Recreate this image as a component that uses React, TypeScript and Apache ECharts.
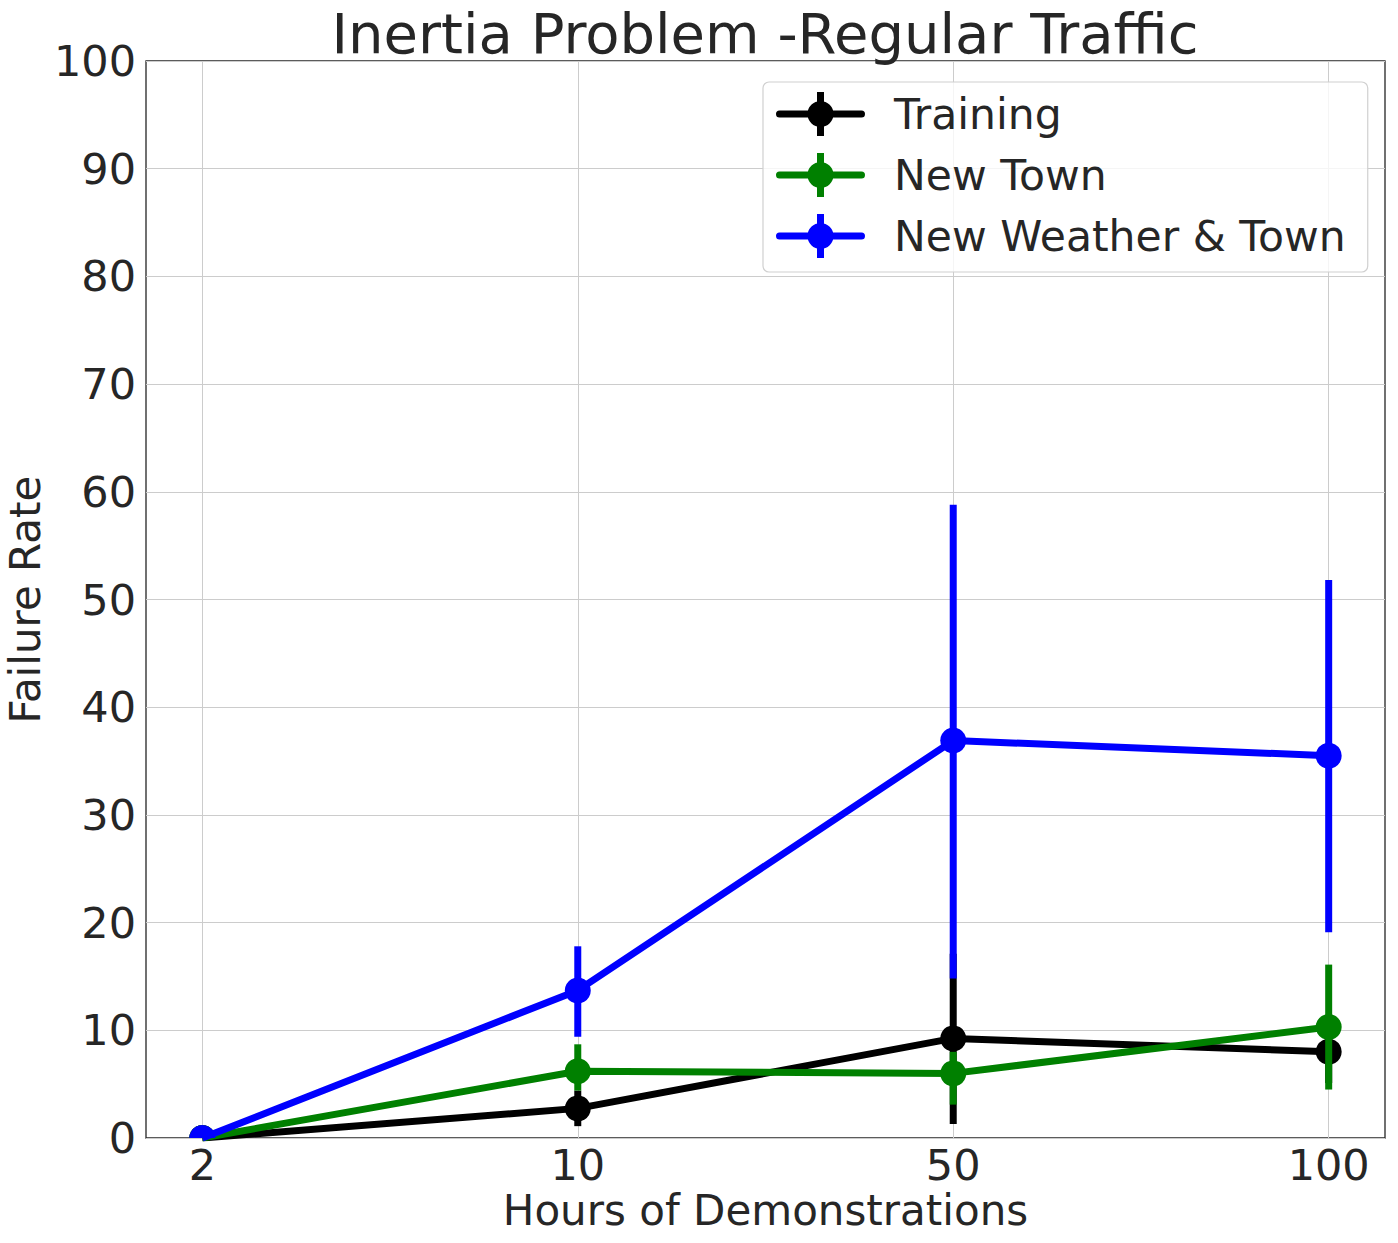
import React, { useEffect, useRef } from "react";
import * as echarts from "echarts";

const xLabels = ["2", "10", "50", "100"];
const xPositions = [0, 1, 2, 3];
const seriesNames = ["Training", "New Town", "New Weather & Town"];
const seriesColors = ["#000000", "#008000", "#0000ff"];

const trainingMean = [0, 2.75, 9.25, 8.0];
const trainingLow = [0, 1.1, 1.3, 5.1];
const trainingHigh = [0, 4.4, 17.1, 10.9];

const newTownMean = [0, 6.2, 6.0, 10.3];
const newTownLow = [0, 4.4, 3.1, 4.5];
const newTownHigh = [0, 8.7, 8.0, 16.1];

const weatherMean = [0, 13.7, 36.9, 35.5];
const weatherLow = [0, 9.4, 14.8, 19.1];
const weatherHigh = [0, 17.8, 58.8, 51.8];

const yTicks = [0, 10, 20, 30, 40, 50, 60, 70, 80, 90, 100];

const FONT = "DejaVu Sans";
const TEXT = "#262626";

const legendIcon =
  "path://M3.5,18.5 L85.5,18.5 A3.5,3.5 0 0 1 85.5,25.5 L3.5,25.5 A3.5,3.5 0 0 1 3.5,18.5 Z " +
  "M41,0 L48,0 L48,44 L41,44 Z " +
  "M31.5,22 A13,13 0 1 1 57.5,22 A13,13 0 1 1 31.5,22 Z";

export default function App() {
  const ref = useRef<HTMLDivElement>(null);

  useEffect(() => {
    document.body.style.margin = "0";
    if (!ref.current) return;
    const chart = echarts.init(ref.current, undefined, { renderer: "svg" });

    const groups = [
      { mean: trainingMean, low: trainingLow, high: trainingHigh },
      { mean: newTownMean, low: newTownLow, high: newTownHigh },
      { mean: weatherMean, low: weatherLow, high: weatherHigh },
    ];

    const series: any[] = [];
    groups.forEach((g, i) => {
      const color = seriesColors[i];
      series.push({
        name: seriesNames[i],
        type: "line",
        data: xPositions.map((x, k) => [x, g.mean[k]]),
        symbol: "none",
        showSymbol: false,
        lineStyle: { color, width: 7 },
        itemStyle: { color },
        z: 2 + i * 2,
        clip: true,
      });
      series.push({
        name: seriesNames[i] + " err",
        type: "custom",
        clip: true,
        z: 3 + i * 2,
        data: xPositions.map((x, k) => [x, g.mean[k], g.low[k], g.high[k]]),
        encode: { x: 0, y: 1 },
        renderItem: (params: any, api: any) => {
          const x = api.value(0);
          const m = api.value(1);
          const lo = api.value(2);
          const hi = api.value(3);
          const pLo = api.coord([x, lo]);
          const pHi = api.coord([x, hi]);
          const pM = api.coord([x, m]);
          return {
            type: "group",
            children: [
              {
                type: "line",
                shape: { x1: pLo[0], y1: pLo[1], x2: pHi[0], y2: pHi[1] },
                style: { stroke: color, lineWidth: 7, lineCap: "butt" },
              },
              {
                type: "circle",
                shape: { cx: pM[0], cy: pM[1], r: 13 },
                style: { fill: color },
              },
            ],
          };
        },
      });
    });

    chart.setOption({
      animation: false,
      backgroundColor: "#ffffff",
      textStyle: { fontFamily: FONT },
      title: {
        text: "Inertia Problem -Regular Traffic",
        left: 765,
        top: 5,
        textAlign: "center",
        padding: 0,
        textStyle: {
          fontFamily: FONT,
          fontSize: 56,
          fontWeight: "normal",
          color: TEXT,
          lineHeight: 56,
        },
      },
      legend: {
        data: seriesNames,
        orient: "vertical",
        left: 763,
        top: 82,
        padding: [10, 22, 14, 13],
        itemWidth: 89,
        itemHeight: 44,
        itemGap: 17,
        icon: legendIcon,
        symbolKeepAspect: false,
        itemStyle: { borderWidth: 0 },
        backgroundColor: "rgba(255,255,255,0.8)",
        borderColor: "#d0d0d0",
        borderWidth: 1.2,
        borderRadius: 6,
        textStyle: {
          fontFamily: FONT,
          fontSize: 42.5,
          color: TEXT,
          lineHeight: 44,
          padding: [0, 0, 0, 24],
        },
      },
      grid: {
        left: 146,
        right: 13,
        top: 61,
        bottom: 105,
        outerBoundsMode: "none",
        containLabel: false,
        show: true,
        borderColor: "#262626",
        borderWidth: 1.3,
        backgroundColor: "transparent",
      },
      xAxis: {
        type: "value",
        min: -0.15,
        max: 3.15,
        name: "Hours of Demonstrations",
        nameLocation: "middle",
        nameGap: 51,
        nameMoveOverlap: false,
        nameTextStyle: { fontFamily: FONT, fontSize: 42, color: TEXT, lineHeight: 42 },
        axisLine: { show: false },
        axisTick: { show: false, customValues: xPositions },
        axisLabel: {
          customValues: xPositions,
          formatter: (v: number) => xLabels[Math.round(v)],
          fontFamily: FONT,
          fontSize: 43,
          color: TEXT,
          margin: 5,
          lineHeight: 43,
        },
        splitLine: { show: true, lineStyle: { color: "#cccccc", width: 1 } },
      },
      yAxis: {
        type: "value",
        min: 0,
        max: 100,
        interval: 10,
        name: "Failure Rate",
        nameLocation: "middle",
        nameGap: 100,
        nameMoveOverlap: false,
        nameTextStyle: { fontFamily: FONT, fontSize: 42, color: TEXT, lineHeight: 42 },
        axisLine: { show: false },
        axisTick: { show: false },
        axisLabel: {
          formatter: (v: number) => (yTicks.includes(v) ? String(v) : ""),
          fontFamily: FONT,
          fontSize: 43,
          color: TEXT,
          margin: 10,
        },
        splitLine: { show: true, lineStyle: { color: "#cccccc", width: 1 } },
      },
      series,
    });

    return () => chart.dispose();
  }, []);

  return <div ref={ref} style={{ width: 1398, height: 1243 }} />;
}
